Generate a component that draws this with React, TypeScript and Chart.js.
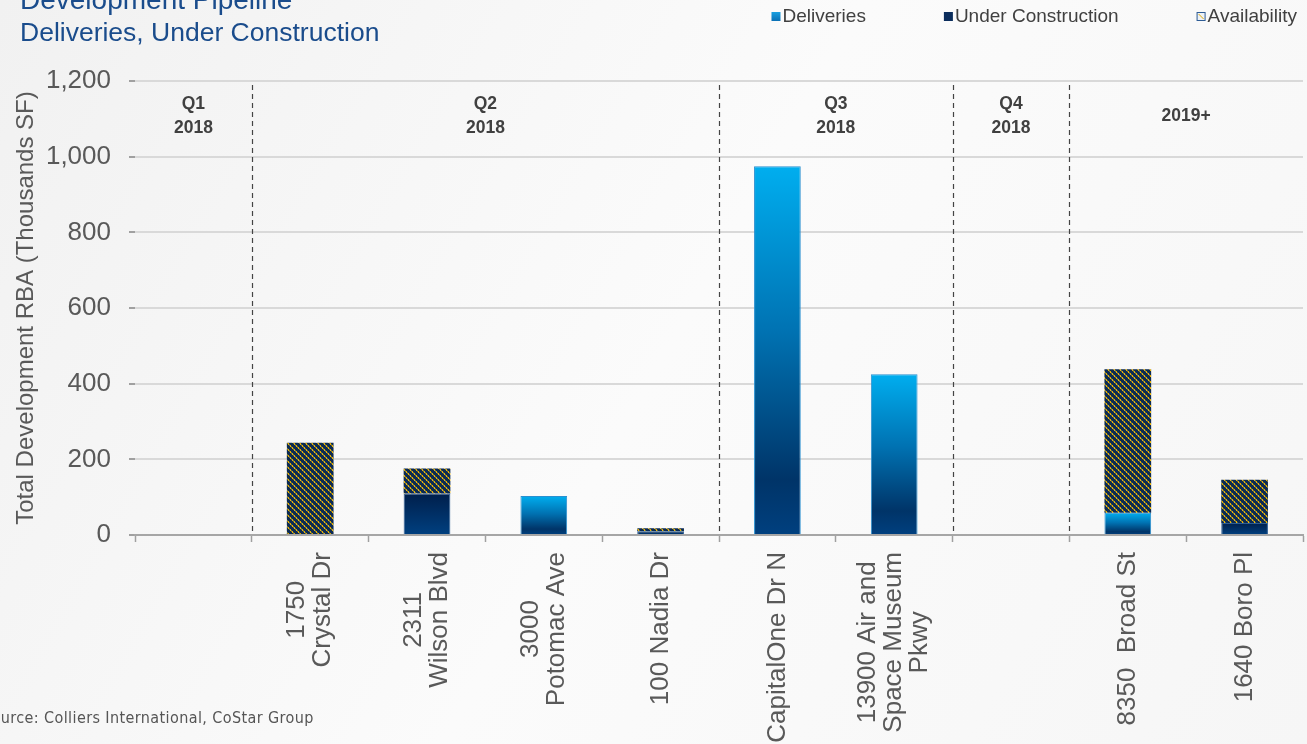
import React, { useEffect, useRef } from "react";
import { Chart, registerables } from "chart.js";

Chart.register(...registerables);

const categories: string[][] = [
  [""],
  ["1750", "Crystal Dr"],
  ["2311", "Wilson Blvd"],
  ["3000", "Potomac Ave"],
  ["100 Nadia Dr"],
  ["CapitalOne Dr N"],
  ["13900 Air and", "Space Museum", "Pkwy"],
  [" "],
  ["8350  Broad St"],
  ["1640 Boro Pl"],
];

const deliveries = [0, 0, 0, 103, 0, 975, 425, 0, 59, 0];
const underConstruction = [0, 0, 110, 0, 10, 0, 0, 0, 0, 32];
const availability = [0, 244, 66, 0, 8, 0, 0, 0, 379, 114];

const seriesNames = ["Deliveries", "Under Construction", "Availability"];

const groupLabels: string[][] = [["Q1", "2018"], ["Q2", "2018"], ["Q3", "2018"], ["Q4", "2018"], ["2019+"]];
const groupSizes = [1, 4, 2, 1, 2];

const titleText = "Development Pipeline";
const subtitleText = "Deliveries, Under Construction";
const yAxisTitle = "Total Development RBA (Thousands SF)";
const sourceText = "Source: Colliers International, CoStar Group";

const yTicks = { min: 0, max: 1200, step: 200 };

const FONT = '"Liberation Sans", Arial, sans-serif';

function makePattern(ctx: CanvasRenderingContext2D) {
  const c = document.createElement("canvas");
  c.width = 6;
  c.height = 6;
  const g = c.getContext("2d")!;
  g.fillStyle = "#0c2a52";
  g.fillRect(0, 0, 6, 6);
  for (let i = 0; i < 6; i++) {
    g.fillStyle = i % 2 === 0 ? "#f2b600" : "#8a7a2a";
    g.fillRect(i, i, 1, 1);
    g.fillStyle = i % 2 === 0 ? "#5b6f55" : "#e0a800";
    g.fillRect((i + 1) % 6, i, 1, 1);
  }
  return ctx.createPattern(c, "repeat")!;
}

export default function App() {
  const ref = useRef<HTMLCanvasElement | null>(null);

  useEffect(() => {
    const canvas = ref.current!;
    const ctx0 = canvas.getContext("2d")!;
    const pattern = makePattern(ctx0);
    const allData = [deliveries, underConstruction, availability];

    const segBounds = (chart: any, di: number, i: number) => {
      const y = chart.scales.y;
      let base = 0;
      for (let k = 0; k < di; k++) base += allData[k][i] || 0;
      const top = base + (allData[di][i] || 0);
      return { yTop: y.getPixelForValue(top), yBot: y.getPixelForValue(base) };
    };

    const deliveriesColor = (c: any) => {
      if (c.dataIndex === undefined || !c.chart.scales?.y) return "#0a7cc0";
      const { yTop, yBot } = segBounds(c.chart, 0, c.dataIndex);
      if (!isFinite(yTop) || !isFinite(yBot) || yTop === yBot) return "#0a7cc0";
      const g = c.chart.ctx.createLinearGradient(0, yTop, 0, yBot);
      g.addColorStop(0, "#00aeef");
      g.addColorStop(0.45, "#0072b2");
      g.addColorStop(0.85, "#003468");
      g.addColorStop(1, "#00407f");
      return g;
    };
    const ucColor = (c: any) => {
      if (c.dataIndex === undefined || !c.chart.scales?.y) return "#0b2f5e";
      const { yTop, yBot } = segBounds(c.chart, 1, c.dataIndex);
      if (!isFinite(yTop) || !isFinite(yBot) || yTop === yBot) return "#0b2f5e";
      const g = c.chart.ctx.createLinearGradient(0, yTop, 0, yBot);
      g.addColorStop(0, "#001f4b");
      g.addColorStop(1, "#004080");
      return g;
    };

    const bgPlugin = {
      id: "bg",
      beforeDraw(chart: any) {
        const { ctx, width, height } = chart;
        const g = ctx.createLinearGradient(0, 0, width, height);
        g.addColorStop(0, "#f1f1f1");
        g.addColorStop(0.5, "#fbfbfb");
        g.addColorStop(1, "#f6f6f6");
        ctx.save();
        ctx.fillStyle = g;
        ctx.fillRect(0, 0, width, height);
        ctx.restore();
      },
    };

    const groupsPlugin = {
      id: "groups",
      afterDatasetsDraw(chart: any) {
        const { ctx, chartArea } = chart;
        const x = chart.scales.x;
        const half = (x.getPixelForValue(1) - x.getPixelForValue(0)) / 2;
        ctx.save();
        let start = 0;
        groupSizes.forEach((size, gi) => {
          const left = x.getPixelForValue(start) - half;
          const right = x.getPixelForValue(start + size - 1) + half;
          if (gi > 0) {
            ctx.strokeStyle = "#444";
            ctx.lineWidth = 1.2;
            ctx.setLineDash([5, 4]);
            ctx.beginPath();
            ctx.moveTo(Math.round(left) + 0.5, chartArea.top + 4);
            ctx.lineTo(Math.round(left) + 0.5, chartArea.bottom);
            ctx.stroke();
            ctx.setLineDash([]);
          }
          const lines = groupLabels[gi];
          ctx.fillStyle = "#404040";
          ctx.font = `bold 17.5px ${FONT}`;
          ctx.textAlign = "center";
          ctx.textBaseline = "middle";
          const cx = (left + right) / 2;
          if (lines.length === 1) {
            ctx.fillText(lines[0], cx, chartArea.top + 35);
          } else {
            lines.forEach((l, j) => ctx.fillText(l, cx, chartArea.top + 23 + j * 24));
          }
          start += size;
        });
        ctx.restore();
      },
    };

    const textPlugin = {
      id: "texts",
      afterDraw(chart: any) {
        const { ctx, chartArea } = chart;
        const x = chart.scales.x;
        ctx.save();
        ctx.fillStyle = "#1a4c8c";
        ctx.textAlign = "left";
        ctx.textBaseline = "alphabetic";
        ctx.font = `28px ${FONT}`;
        ctx.fillText(titleText, 20, 9);
        ctx.font = `26.5px ${FONT}`;
        ctx.fillText(subtitleText, 20, 41);

        // legend, right-aligned
        ctx.font = `19px ${FONT}`;
        ctx.textBaseline = "middle";
        const gap = 77;
        const itemW = seriesNames.map((n) => 12 + ctx.measureText(n).width);
        const totalW = itemW.reduce((a, b) => a + b, 0) + gap * (seriesNames.length - 1);
        let bx = 1298 - totalW;
        seriesNames.forEach((name, i) => {
          const by = 12;
          if (i === 0) {
            const g = ctx.createLinearGradient(0, by, 0, by + 9);
            g.addColorStop(0, "#1aa0e0");
            g.addColorStop(1, "#0a70b5");
            ctx.fillStyle = g;
            ctx.fillRect(bx, by, 9, 9);
          } else if (i === 1) {
            ctx.fillStyle = "#0b2d5c";
            ctx.fillRect(bx, by, 9, 9);
          } else {
            ctx.fillStyle = "#eef2f6";
            ctx.fillRect(bx, by, 9, 9);
            ctx.strokeStyle = "#2e5c95";
            ctx.lineWidth = 1;
            ctx.strokeRect(bx + 0.5, by + 0.5, 8, 8);
            ctx.strokeStyle = "#e0a800";
            ctx.beginPath();
            ctx.moveTo(bx + 2, by + 2);
            ctx.lineTo(bx + 7, by + 7);
            ctx.stroke();
          }
          ctx.fillStyle = "#404040";
          ctx.fillText(name, bx + 11, by + 5);
          bx += itemW[i] + gap;
        });

        // x category labels
        ctx.font = `26px ${FONT}`;
        ctx.fillStyle = "#595959";
        ctx.textAlign = "center";
        ctx.textBaseline = "middle";
        const lh = 26;
        const topY = chartArea.bottom + 17;
        categories.forEach((lines, i) => {
          const px = x.getPixelForValue(i);
          const maxW = Math.max(...lines.map((l) => ctx.measureText(l).width));
          const cy = topY + maxW / 2;
          lines.forEach((l, j) => {
            const lx = px + (j - (lines.length - 1) / 2) * lh;
            ctx.save();
            ctx.translate(lx, cy);
            ctx.rotate(-Math.PI / 2);
            ctx.fillText(l, 0, 0);
            ctx.restore();
          });
        });

        // source
        ctx.font = `16px "Liberation Sans Narrow", "DejaVu Sans Condensed", Arial, sans-serif`;
        (ctx as any).letterSpacing = "0.4px";
        ctx.fillStyle = "#555";
        ctx.textAlign = "left";
        ctx.textBaseline = "middle";
        ctx.fillText(sourceText, -18, 719);
        ctx.restore();
      },
    };

    const chart = new Chart(canvas, {
      type: "bar",
      data: {
        labels: categories,
        datasets: [
          {
            label: seriesNames[0],
            data: deliveries,
            backgroundColor: deliveriesColor,
            borderColor: "#2a90d0",
            borderWidth: 1,
            barPercentage: 0.4,
            categoryPercentage: 1,
          },
          {
            label: seriesNames[1],
            data: underConstruction,
            backgroundColor: ucColor,
            borderColor: "#2c5d94",
            borderWidth: 1,
            barPercentage: 0.4,
            categoryPercentage: 1,
          },
          {
            label: seriesNames[2],
            data: availability,
            backgroundColor: pattern,
            borderWidth: 0,
            barPercentage: 0.4,
            categoryPercentage: 1,
          },
        ],
      },
      options: {
        responsive: false,
        animation: false,
        layout: { padding: { top: 81, left: 0, right: 4, bottom: 0 } },
        plugins: {
          legend: { display: false },
          tooltip: { enabled: false },
          title: { display: false },
        },
        scales: {
          x: {
            stacked: true,
            grid: {
              offset: true,
              drawOnChartArea: false,
              drawTicks: true,
              tickLength: 7,
              tickColor: "#a0a0a0",
              tickWidth: 1.5,
            },
            border: { display: true, color: "#a6a6a6", width: 2 },
            ticks: { display: false },
            afterFit: (s: any) => {
              s.height = 209;
            },
          },
          y: {
            stacked: true,
            min: yTicks.min,
            max: yTicks.max,
            ticks: {
              stepSize: yTicks.step,
              color: "#595959",
              font: { size: 26, family: FONT },
              padding: 18,
            },
            grid: {
              color: "#d9d9d9",
              lineWidth: 2,
              tickLength: 6,
              tickColor: "#a0a0a0",
            },
            border: { display: false },
            title: {
              display: true,
              text: yAxisTitle,
              color: "#595959",
              font: { size: 24, family: FONT },
              padding: { top: 12, bottom: 0 },
            },
            afterFit: (s: any) => {
              s.width = 135;
            },
          },
        },
      },
      plugins: [bgPlugin, groupsPlugin, textPlugin],
    });

    return () => chart.destroy();
  }, []);

  return (
    <div style={{ position: "fixed", left: 0, top: 0, width: 1307, height: 744 }}>
      <canvas ref={ref} width={1307} height={744} style={{ display: "block" }} />
    </div>
  );
}
